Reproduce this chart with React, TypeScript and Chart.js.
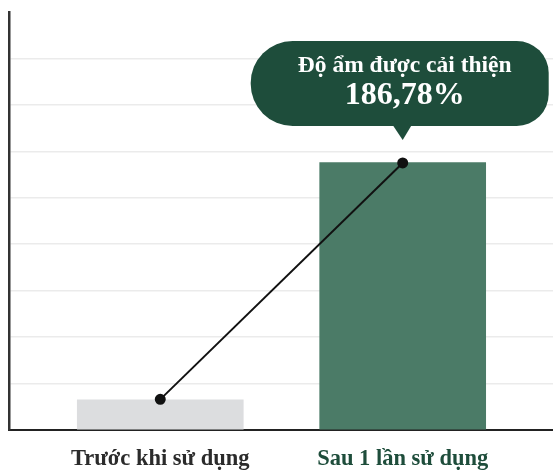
import React, { useEffect, useRef } from "react";
import { Chart, registerables } from "chart.js";

Chart.register(...registerables);

const categories = ["Trước khi sử dụng", "Sau 1 lần sử dụng"];
const barValues = [0.65, 5.76];
const lineValues = [0.66, 5.75];
const calloutTitle = "Độ ẩm được cải thiện";
const calloutValue = "186,78%";
const labelColors = ["#2b2b2b", "#1e4d3b"];
const barColors = ["#dcdddf", "#4b7b67"];

const FONT = "'Liberation Serif', 'DejaVu Serif', serif";

const calloutPlugin = {
  id: "callout",
  afterDatasetsDraw(chart: any) {
    const meta = chart.getDatasetMeta(1);
    const pt = meta.data[1];
    if (!pt) return;
    const ctx = chart.ctx;
    const px = pt.x;
    const py = pt.y;
    const tipY = py - 23;
    const bottom = tipY - 14;
    const top = bottom - 85;
    const left = px - 152;
    const right = px + 146;
    ctx.save();
    ctx.fillStyle = "#1e4d3b";
    ctx.beginPath();
    (ctx as any).roundRect(left, top, right - left, bottom - top, [42, 32, 32, 42]);
    ctx.fill();
    ctx.beginPath();
    ctx.moveTo(px - 10, bottom - 1);
    ctx.lineTo(px + 9, bottom - 1);
    ctx.lineTo(px, tipY);
    ctx.closePath();
    ctx.fill();
    ctx.fillStyle = "#ffffff";
    ctx.textAlign = "center";
    ctx.textBaseline = "middle";
    ctx.font = `600 23.5px ${FONT}`;
    ctx.fillText(calloutTitle, px + 2, top + 25);
    ctx.font = `bold 32px ${FONT}`;
    ctx.fillText(calloutValue, px + 2, top + 55);
    ctx.restore();
  },
};

export default function App() {
  const ref = useRef<HTMLCanvasElement>(null);
  useEffect(() => {
    document.body.style.margin = "0";
    const canvas = ref.current!;
    const chart = new Chart(canvas, {
      type: "bar",
      data: {
        datasets: [
          {
            type: "bar",
            data: barValues.map((v, i) => ({ x: i, y: v })),
            backgroundColor: barColors,
            barThickness: 166,
            order: 1,
          } as any,
          {
            type: "line",
            data: lineValues.map((v, i) => ({ x: i, y: v })),
            borderColor: "#111111",
            borderWidth: 2,
            pointRadius: 4.5,
            pointBackgroundColor: "#111111",
            pointBorderColor: "#111111",
            order: 0,
          } as any,
        ],
      },
      options: {
        responsive: false,
        animation: false,
        layout: { autoPadding: false, padding: { left: 9, right: 0, top: 12, bottom: 0 } },
        plugins: { legend: { display: false }, tooltip: { enabled: false } },
        scales: {
          x: {
            type: "linear",
            offset: false,
            min: -0.624,
            max: 1.62,
            afterBuildTicks: (scale: any) => {
              scale.ticks = categories.map((_, i) => ({ value: i }));
            },
            afterFit: (scale: any) => {
              scale.height = 42;
            },
            grid: { display: false, drawTicks: false },
            border: { display: true, color: "#222222", width: 2 },
            ticks: {
              padding: 16,
              autoSkip: false,
              maxRotation: 0,
              font: { family: FONT, size: 22.5, weight: "bold" },
              color: (c: any) => labelColors[c.index] || "#2b2b2b",
              callback: (v: any) => {
                const n = Number(v);
                return Number.isInteger(n) && categories[n] ? categories[n] : "";
              },
            },
          },
          y: {
            min: 0,
            max: 9,
            ticks: { display: false, stepSize: 1 },
            grid: {
              drawTicks: false,
              color: (c: any) => (c.tick && c.tick.value === 9 ? "rgba(0,0,0,0)" : "#ebebeb"),
              lineWidth: 1.5,
            },
            border: { display: true, color: "#333333", width: 2.5 },
          },
        },
      } as any,
      plugins: [calloutPlugin],
    });
    return () => chart.destroy();
  }, []);
  return (
    <div style={{ width: 553, height: 472 }}>
      <canvas ref={ref} width={553} height={472} />
    </div>
  );
}
